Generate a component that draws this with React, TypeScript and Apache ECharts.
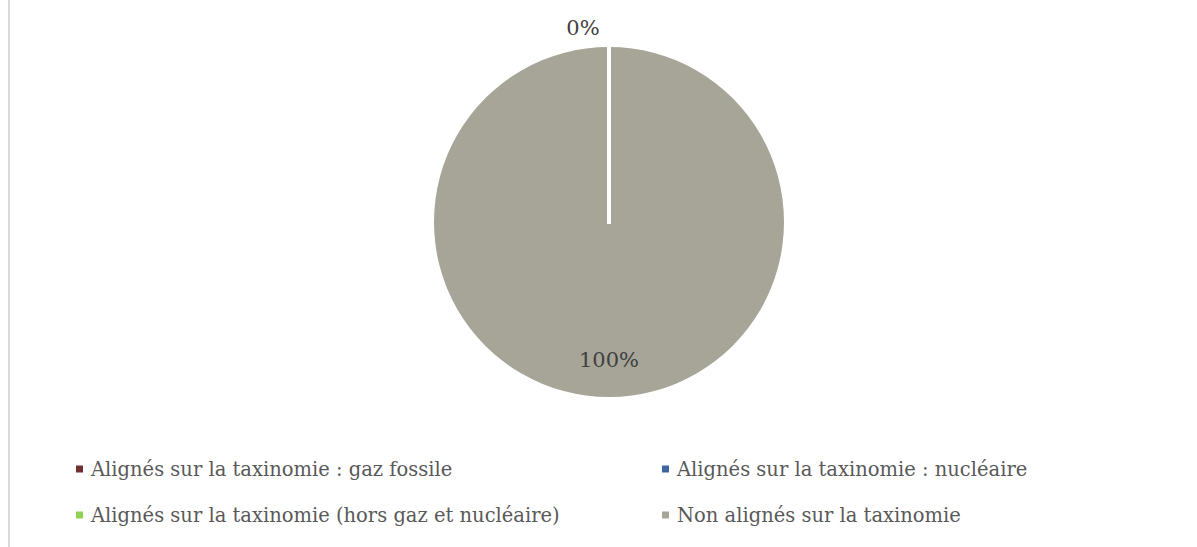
import React, { useEffect, useRef } from "react";
import * as echarts from "echarts";

const categories = [
  "Alignés sur la taxinomie : gaz fossile",
  "Alignés sur la taxinomie : nucléaire",
  "Alignés sur la taxinomie (hors gaz et nucléaire)",
  "Non alignés sur la taxinomie",
];
const values = [0, 0, 0, 100];
const colors = ["#722F2F", "#3F66A0", "#92D050", "#A6A598"];
const shownLabels = [true, false, false, true];

const FONT = "DejaVu Serif";

export default function App() {
  const ref = useRef<HTMLDivElement>(null);
  useEffect(() => {
    if (!ref.current) return;
    const chart = echarts.init(ref.current, undefined, { renderer: "svg" });
    const cx = 609;
    const cy = 222;
    const r = 175;
    const legendText = { fontFamily: FONT, fontSize: 19.5, color: "#595959", padding: [0, 0, 0, 3] };
    chart.setOption({
      animation: false,
      color: colors,
      graphic: [
        { type: "rect", shape: { x: 8, y: 0, width: 2, height: 547 }, style: { fill: "#D9D9D9" }, silent: true },
        {
          type: "line",
          z: 100,
          shape: { x1: cx, y1: cy - r - 2, x2: cx, y2: cy + 2 },
          style: { stroke: "#FFFFFF", lineWidth: 4 },
          silent: true,
        },
      ],
      legend: [
        {
          orient: "vertical",
          left: 71,
          top: 454,
          itemWidth: 7,
          itemHeight: 7,
          itemGap: 26,
          icon: "rect",
          data: [categories[0], categories[2]],
          textStyle: legendText,
        },
        {
          orient: "vertical",
          left: 657,
          top: 454,
          itemWidth: 7,
          itemHeight: 7,
          itemGap: 26,
          icon: "rect",
          data: [categories[1], categories[3]],
          textStyle: legendText,
        },
      ],
      series: [
        {
          type: "pie",
          center: [cx, cy],
          radius: [0, r],
          startAngle: 90,
          clockwise: true,
          minAngle: 0,
          avoidLabelOverlap: false,
          itemStyle: { borderWidth: 0 },
          label: {
            position: "inside",
            formatter: (p: any) => `${Math.round(p.percent)}%`,
            fontFamily: FONT,
            fontSize: 21,
            color: "#404040",
          },
          labelLine: { show: false },
          labelLayout: (p: any) => {
            if (p.dataIndex === 3) {
              return { x: cx, y: cy + 138, align: "center", verticalAlign: "middle" };
            }
            return { x: 583, y: 28, align: "center", verticalAlign: "middle" };
          },
          emphasis: { disabled: true },
          data: categories.map((name, i) => ({
            name,
            value: values[i],
            label: { show: shownLabels[i] },
          })),
        },
      ],
    });
    return () => chart.dispose();
  }, []);
  return (
    <div
      ref={ref}
      style={{ position: "absolute", left: 0, top: 0, width: 1197, height: 547, background: "#FFFFFF" }}
    />
  );
}
